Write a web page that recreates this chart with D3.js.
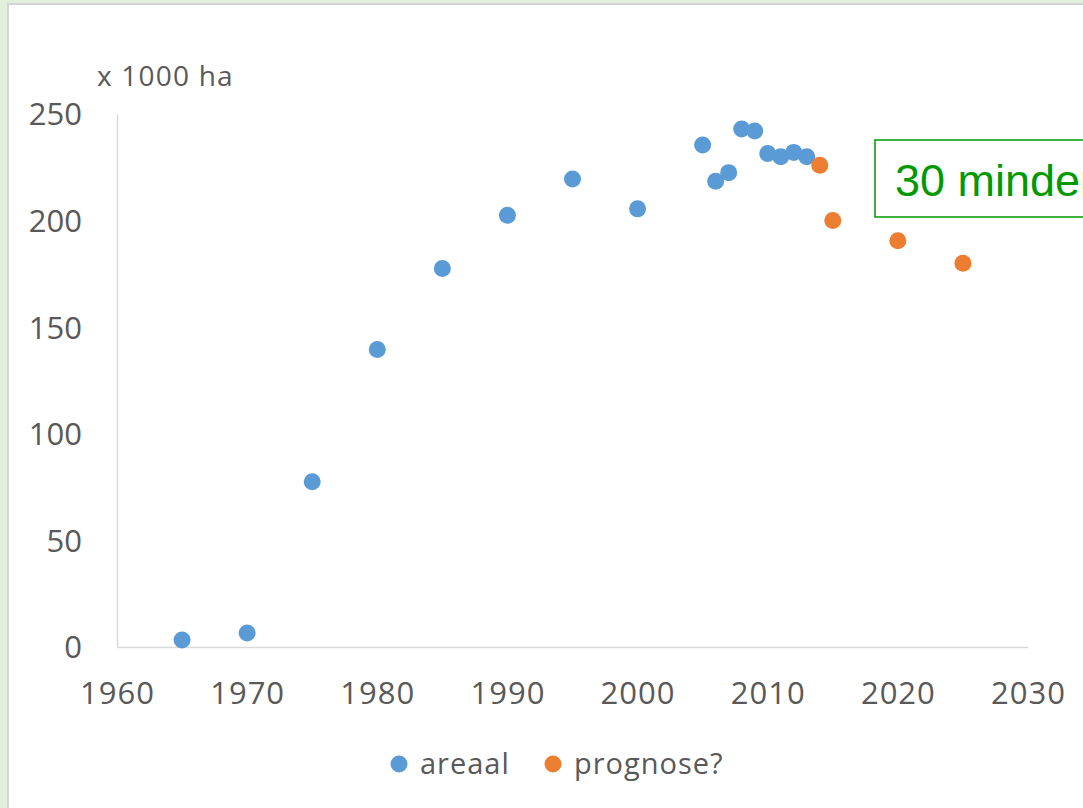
<!DOCTYPE html>
<html>
<head>
<meta charset="utf-8">
<script src="https://cdn.jsdelivr.net/npm/d3@7"></script>
<style>
  html, body { margin: 0; padding: 0; background: #e2efda; overflow: hidden; }
  #chart { width: 1083px; height: 808px; }
  text { font-family: "Open Sans", "DejaVu Sans", sans-serif; }
</style>
</head>
<body>
<div id="chart"></div>
<script>
// data
let areaalYears  = [1965, 1970, 1975, 1980, 1985, 1990, 1995, 2000, 2005, 2006, 2007, 2008, 2009, 2010, 2011, 2012, 2013];
let areaalValues = [3.3, 6.6, 77.5, 139.5, 177.5, 202.5, 219.5, 205.5, 235.5, 218.5, 222.5, 243, 242, 231.5, 230, 232, 230];
let prognoseYears  = [2014, 2015, 2020, 2025];
let prognoseValues = [226, 200, 190.5, 180];
let xTicks = [1960, 1970, 1980, 1990, 2000, 2010, 2020, 2030];
let yTicks = [0, 50, 100, 150, 200, 250];
let seriesNames = ["areaal", "prognose?"];
let seriesColors = ["#5b9bd5", "#ed7d31"];

let W = 1083, H = 808;
let svg = d3.select("#chart").append("svg")
    .attr("width", W)
    .attr("height", H);

// white panel with grey border
svg.append("rect")
    .attr("x", 8).attr("y", 4)
    .attr("width", W).attr("height", H)
    .attr("fill", "#ffffff")
    .attr("stroke", "#d4d4d4")
    .attr("stroke-width", 2);

let x = d3.scaleLinear().domain([1960, 2030]).range([117, 1028]);
let y = d3.scaleLinear().domain([0, 250]).range([647, 114]);

// x axis
let xAxis = svg.append("g")
    .attr("transform", "translate(0," + y(0) + ")")
    .call(d3.axisBottom(x).tickValues(xTicks).tickFormat(d3.format("d")).tickSize(0).tickPadding(35));
xAxis.select(".domain").attr("stroke", "#d9d9d9").attr("stroke-width", 1.5);
xAxis.selectAll("text").attr("fill", "#595959").style("font-size", "31px").style("letter-spacing", "1px");

// y axis
let yAxis = svg.append("g")
    .attr("transform", "translate(" + x(1960) + ",0)")
    .call(d3.axisLeft(y).tickValues(yTicks).tickSize(0).tickPadding(35));
yAxis.select(".domain").attr("stroke", "#d9d9d9").attr("stroke-width", 1.5);
yAxis.selectAll("text").attr("fill", "#595959").style("font-size", "31px").attr("dy", "0.35em");

// unit label
svg.append("text")
    .attr("x", 97).attr("y", 86)
    .attr("fill", "#595959")
    .style("font-size", "28px")
    .style("letter-spacing", "1.2px")
    .text("x 1000 ha");

// points
let areaal = areaalYears.map((d, i) => ({year: d, value: areaalValues[i]}));
let prognose = prognoseYears.map((d, i) => ({year: d, value: prognoseValues[i]}));

svg.append("g").selectAll("circle")
    .data(areaal)
    .enter().append("circle")
    .attr("cx", d => x(d.year))
    .attr("cy", d => y(d.value))
    .attr("r", 8.5)
    .attr("fill", seriesColors[0]);

svg.append("g").selectAll("circle")
    .data(prognose)
    .enter().append("circle")
    .attr("cx", d => x(d.year))
    .attr("cy", d => y(d.value))
    .attr("r", 8.5)
    .attr("fill", seriesColors[1]);

// annotation box (runs off the right edge, as in the original)
svg.append("rect")
    .attr("x", 875).attr("y", 140)
    .attr("width", 400).attr("height", 77)
    .attr("fill", "#ffffff")
    .attr("stroke", "#009900")
    .attr("stroke-width", 1.5);
svg.append("text")
    .attr("x", 895).attr("y", 196)
    .attr("fill", "#009900")
    .style("font-family", "'Liberation Sans', Arial, sans-serif")
    .style("font-size", "45px")
    .text("30 minder");

// legend
let legendX = [399, 553];
let legend = svg.append("g").selectAll("g")
    .data(seriesNames)
    .enter().append("g")
    .attr("transform", (d, i) => "translate(" + legendX[i] + ",764)");
legend.append("circle")
    .attr("r", 8.5)
    .attr("fill", (d, i) => seriesColors[i]);
legend.append("text")
    .attr("x", 21).attr("dy", "0.35em")
    .attr("fill", "#595959")
    .style("font-size", "29px")
    .style("letter-spacing", "1px")
    .text(d => d);
</script>
</body>
</html>
